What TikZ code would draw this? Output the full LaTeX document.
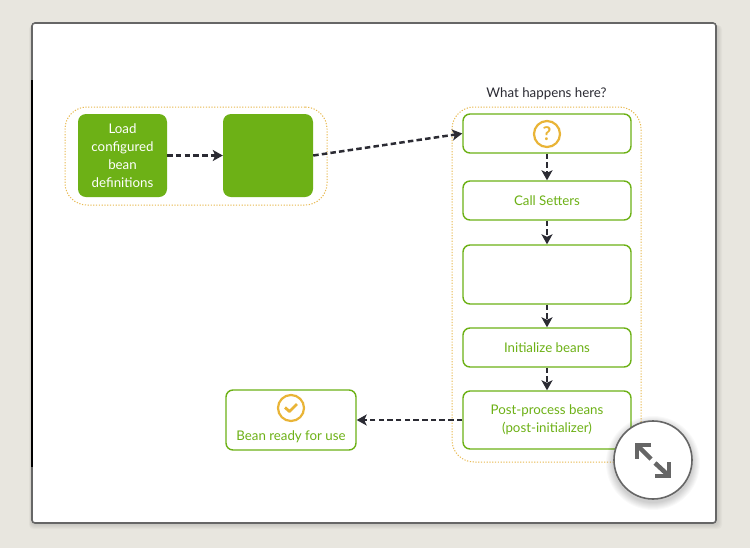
\documentclass[tikz,border=0pt]{standalone}
\usepackage{fontspec}
\setmainfont{Lato}
\usetikzlibrary{arrows.meta,positioning}
\definecolor{pagegray}{HTML}{E8E6DF}
\definecolor{cardedge}{HTML}{666666}
\definecolor{beangreen}{HTML}{6DB116}
\definecolor{dotorange}{HTML}{E8B94F}
\definecolor{iconorange}{HTML}{E9B437}
\definecolor{flowdark}{HTML}{2B2B33}
\tikzset{
  solidbox/.style={draw=none,fill=beangreen,rounded corners=8pt,text=white,align=center,
    minimum width=#1,inner sep=0pt,font=\fontsize{13.3}{18}\selectfont},
  stagebox/.style={draw=beangreen,line width=1.4pt,fill=white,rounded corners=7pt,text=beangreen,
    align=center,minimum width=168pt,inner sep=0pt,font=\fontsize{13.3}{18}\selectfont},
  groupbox/.style={draw=dotorange,line width=1pt,dash pattern=on 1.2pt off 1.6pt,rounded corners=22pt,inner sep=0pt},
  flow/.style={draw=flowdark,line width=2.5pt,dash pattern=on 5.5pt off 3.2pt,
    -{Stealth[inset=2.5pt,length=10pt,width=11pt]}},
  iconring/.style={circle,draw=iconorange,line width=2.2pt,minimum size=26pt,inner sep=0pt,
    text=iconorange,font=\fontsize{19}{19}\bfseries\selectfont},
}
\begin{document}
\begin{tikzpicture}[x=1pt,y=-1pt]
    \useasboundingbox (0,0) rectangle (750,550);
    % Fondo y tarjeta.
    \fill[pagegray] (0,0) rectangle (750,550);
    \fill[white!96!pagegray] (0,548) rectangle (750,550);
    \foreach \i in {1,...,6}
        \fill[black,opacity=.025,rounded corners=4pt] (32-\i/2,25) rectangle (716+\i,523+\i);
    \draw[cardedge,line width=1.6pt,fill=white,rounded corners=3pt] (32,23) rectangle (716,523);
    \draw[black,line width=1.6pt] (32,80) -- (32,467);

    % Grupos punteados.
    \node[groupbox,minimum width=262pt,minimum height=98pt] (leftgroup) at (196,156) {};
    \node[groupbox,minimum width=189pt,minimum height=355pt] (rightgroup) at (546.5,284.5) {};
    \node[anchor=south,font=\fontsize{13.3}{15}\selectfont,text=flowdark] (asklabel) at (546.5,103) {What happens here?};

    % Cajas verdes.
    \node[solidbox=89pt,minimum height=83pt] (loaddefs) at (122.5,155.5) {Load\\configured\\bean\\definitions};
    \node[solidbox=90pt,minimum height=83pt] (blankdefs) at (268,155.5) {};

    % Etapas de la columna derecha.
    \node[stagebox,minimum height=39pt] (askstage) at (547,133.5) {};
    \node[stagebox,minimum height=39pt] (setters) at (547,200.5) {Call Setters};
    \node[stagebox,minimum height=59pt] (blankstage) at (547,274.5) {};
    \node[stagebox,minimum height=39pt] (initbeans) at (547,347.5) {Initialize beans};
    \node[stagebox,minimum height=58pt] (postproc) at (547,420) {Post-process beans\\[.3pt](post-initializer)};
    \node[stagebox,minimum width=130pt,minimum height=60pt] (ready) at (291,420) {};
    \node[text=beangreen,font=\fontsize{13.3}{15}\selectfont] (readytext) at (291,437) {Bean ready for use};

    % Iconos.
    \node[iconring] (askicon) at (547,134) {?};
    \node[iconring] (checkicon) at (291,408) {};
    \draw[iconorange,line width=2.8pt,line join=round]
        ([shift={(-6,-.5)}]checkicon.center) -- ([shift={(-1.5,3.5)}]checkicon.center) -- ([shift={(6,-4)}]checkicon.center);

    % Flechas.
    \draw[flow] (loaddefs.east) -- (blankdefs.west);
    \draw[flow] (blankdefs.east) -- (askstage.west);
    \draw[flow] (askstage.south) -- (setters.north);
    \draw[flow] (setters.south) -- (blankstage.north);
    \draw[flow] (blankstage.south) -- (initbeans.north);
    \draw[flow] (initbeans.south) -- (postproc.north);
    \draw[flow] (postproc.west) -- (ready.east);

    % Boton de ampliar.
    \foreach \i in {1,...,8}
        \fill[black,opacity=.022] (653,463) circle (39+\i);
    \node[circle,draw=cardedge,line width=1.6pt,fill=white,minimum size=78pt,inner sep=0pt] (zoombtn) at (653,460) {};
    \draw[cardedge,line width=4.5pt] (651,445) -- (637,445) -- (637,459);
    \draw[cardedge,line width=4.5pt] (655,476) -- (669,476) -- (669,462);
    \draw[cardedge,line width=4.5pt] (638,446) -- (651,459);
    \draw[cardedge,line width=4.5pt] (655,463) -- (668,475);
\end{tikzpicture}
\end{document}
